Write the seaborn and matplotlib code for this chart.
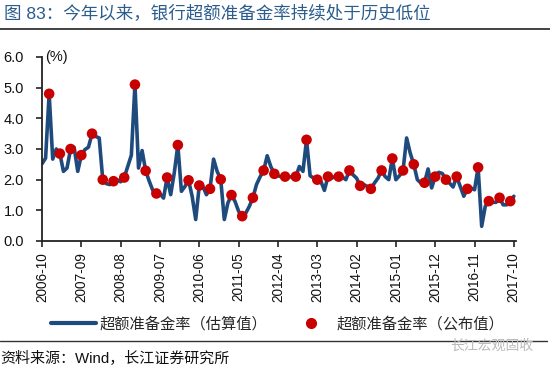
import matplotlib
matplotlib.use("Agg")
import matplotlib.pyplot as plt
import seaborn as sns
import pandas as pd
import numpy as np
from matplotlib.lines import Line2D

# ---------------- data ----------------
start_month = "2006-10"
n_months = 133
estimated = [
    2.52, 2.70, 4.80, 2.67, 3.00, 2.85, 2.27, 2.38, 3.00, 3.05,
    2.27, 2.80, 2.98, 3.06, 3.50, 3.41, 3.36, 2.00, 1.87, 1.84,
    1.95, 2.00, 1.93, 2.07, 2.43, 2.80, 5.10, 2.38, 2.95, 2.29,
    1.95, 1.65, 1.55, 1.54, 1.40, 2.07, 1.51, 2.22, 3.13, 1.62,
    1.78, 1.98, 1.46, 0.70, 1.81, 1.78, 1.51, 1.70, 2.67, 2.27,
    2.01, 0.70, 1.24, 1.50, 1.29, 0.97, 0.81, 0.91, 1.13, 1.41,
    1.84, 2.09, 2.30, 2.78, 2.43, 2.19, 2.13, 2.09, 2.10, 2.09,
    2.09, 2.10, 2.43, 2.27, 3.30, 2.13, 2.05, 2.00, 1.95, 1.65,
    2.10, 2.05, 2.10, 2.10, 2.09, 2.00, 2.30, 2.16, 2.05, 1.80,
    1.84, 1.78, 1.70, 1.89, 2.05, 2.30, 2.10, 2.00, 2.69, 2.00,
    2.13, 2.30, 3.36, 2.87, 2.50, 2.00, 1.89, 1.90, 2.35, 1.73,
    2.10, 2.24, 2.20, 2.00, 1.89, 1.76, 2.10, 1.78, 1.46, 1.70,
    1.73, 1.67, 2.40, 0.48, 1.13, 1.30, 1.26, 1.26, 1.41, 1.18,
    1.18, 1.30, 1.46,
]
# published values, quarter ends 2006-12 ... 2017-09
published = [
    4.80, 2.85, 3.00, 2.80, 3.50, 2.00, 1.95, 2.07, 5.10, 2.29,
    1.55, 2.07, 3.13, 1.98, 1.81, 1.70, 2.01, 1.50, 0.81, 1.41,
    2.30, 2.19, 2.10, 2.10, 3.30, 2.00, 2.10, 2.10, 2.30, 1.80,
    1.70, 2.30, 2.69, 2.30, 2.50, 1.90, 2.10, 2.00, 2.10, 1.70,
    2.40, 1.30, 1.41, 1.30,
]
y_ticks = [0.0, 1.0, 2.0, 3.0, 4.0, 5.0, 6.0]

title = "图 83：今年以来，银行超额准备金率持续处于历史低位"
label_est = "超额准备金率（估算值）"
label_pub = "超额准备金率（公布值）"
source = "资料来源：Wind，长江证券研究所"
watermark = "长江宏观固收"

months = pd.period_range(start_month, periods=n_months, freq="M")
month_labels = [m.strftime("%Y-%m") for m in months]
df_line = pd.DataFrame({"idx": np.arange(n_months), "value": estimated})
pub_idx = [i for i, m in enumerate(months) if m.month in (3, 6, 9, 12)][:len(published)]
df_pub = pd.DataFrame({"idx": pub_idx, "value": published})

# ---------------- style ----------------
sns.set_theme(style="white")
plt.rcParams["font.family"] = ["Liberation Sans", "Noto Sans CJK SC", "DejaVu Sans"]

line_color = "#1F4A7D"
dot_color = "#C80000"

fig = plt.figure(figsize=(5.5, 3.7), dpi=100)
ax = fig.add_axes([42 / 550, 1 - 241 / 370, (516 - 42) / 550, (241 - 57) / 370])

sns.lineplot(data=df_line, x="idx", y="value", ax=ax, color=line_color,
             linewidth=2.6, legend=False)
sns.scatterplot(data=df_pub, x="idx", y="value", ax=ax, color=dot_color,
                s=58, edgecolor="none", zorder=3, legend=False)

ax.set_xlim(0, 132.6)
ax.set_ylim(0, 6)
ax.set_yticks(y_ticks)
ax.set_yticklabels([f"{v:.1f}" for v in y_ticks], fontsize=10.5)
tick_pos = list(range(0, n_months, 11))
ax.set_xticks(tick_pos)
ax.set_xticklabels([month_labels[i] for i in tick_pos], rotation=90, fontsize=9.8)
ax.set_xlabel("")
ax.set_ylabel("")
for s in ["top", "right"]:
    ax.spines[s].set_visible(False)
for s in ["left", "bottom"]:
    ax.spines[s].set_color("#222222")
    ax.spines[s].set_linewidth(1.3)
ax.tick_params(axis="both", which="both", direction="out", length=4, width=1.2,
               color="#222222", labelcolor="#111111")
ax.tick_params(axis="x", bottom=True, pad=4)
ax.tick_params(axis="y", left=True, pad=9)

fig.text(45 / 550, 1 - 57 / 370, "(%)", fontsize=10.5, color="#111111",
         va="center", ha="left")

# title and rules
fig.text(4 / 550, 1 - 13 / 370, title, fontsize=12.6, color="#2A5C8C",
         va="center", ha="left")
fig.add_artist(Line2D([0, 1], [1 - 29 / 370, 1 - 29 / 370], color="#333333",
                      linewidth=1.3, transform=fig.transFigure))
fig.add_artist(Line2D([0, 547 / 550], [1 - 341 / 370, 1 - 341 / 370],
                      color="#333333", linewidth=1.0, transform=fig.transFigure))

# legend
handles = [
    Line2D([], [], color=line_color, linewidth=3),
    Line2D([], [], color=dot_color, marker="o", linestyle="none", markersize=7),
]
fig.legend(handles, [label_est, label_pub], loc="center",
           bbox_to_anchor=(278 / 550, 1 - 324 / 370), ncol=2, frameon=False,
           fontsize=11, handlelength=2.9, handletextpad=0.25,
           columnspacing=1.4, borderpad=0, borderaxespad=0)

fig.text(0 / 550, 1 - 359 / 370, source, fontsize=10.8, color="#111111",
         va="center", ha="left")
fig.text(533 / 550, 1 - 346 / 370, watermark, fontsize=10, color="#BBBBBB",
         va="center", ha="right")

fig.savefig("out.png", dpi=100)
